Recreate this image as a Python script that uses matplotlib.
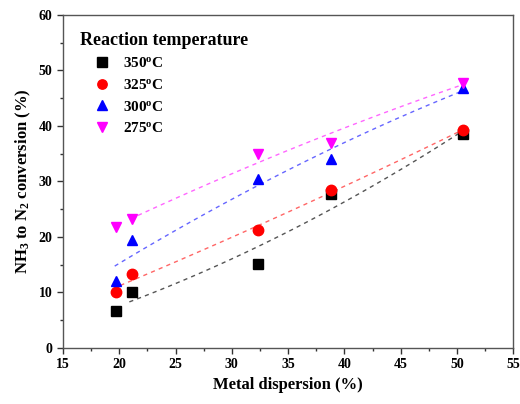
import numpy as np
import matplotlib
matplotlib.use("Agg")
import matplotlib.pyplot as plt

plt.rcParams["font.family"] = ["Liberation Serif", "DejaVu Serif"]
plt.rcParams["font.weight"] = "bold"
plt.rcParams["mathtext.fontset"] = "custom"
plt.rcParams["mathtext.rm"] = "Liberation Serif:bold"
plt.rcParams["mathtext.it"] = "Liberation Serif:bold"
plt.rcParams["mathtext.bf"] = "Liberation Serif:bold"

# metal dispersion (%)
dispersion = [19.7, 21.1, 32.3, 38.8, 50.5]

# NH3 -> N2 conversion (%) per reaction temperature
conv_350 = [6.6, 10.0, 15.2, 27.8, 38.5]
conv_325 = [10.0, 13.3, 21.3, 28.5, 39.2]
conv_300 = [12.0, 19.5, 30.5, 34.0, 46.8]
conv_275 = [21.8, 23.2, 35.0, 37.0, 47.8]

labels = ["350$^{o}$C", "325$^{o}$C", "300$^{o}$C", "275$^{o}$C"]
fit_start = [20.9, 20.1, 19.6, 21.0]

series = [conv_350, conv_325, conv_300, conv_275]
markers = ["s", "o", "^", "v"]
colors = ["black", "red", "blue", "magenta"]
line_colors = ["#555555", "#ff6666", "#6666ff", "#ff66ff"]

fig = plt.figure(figsize=(5.2, 4.04), dpi=100)
ax = fig.add_axes([0.121, 0.139, 0.866, 0.824])

x = np.array(dispersion)
for ys, m, c, lc, lab, x0 in zip(series, markers, colors, line_colors, labels, fit_start):
    coef = np.polyfit(x, ys, 2)
    xf = np.linspace(x0, 50.5, 100)
    ax.plot(xf, np.polyval(coef, xf), ls=(0, (3, 3)), lw=1, color=lc, zorder=1)
    ax.plot(x, ys, ls="none", marker=m, color=c, markersize=7.5, label=lab, zorder=2)

ax.set_xlim(15, 55)
ax.set_ylim(0, 60)
ax.set_xticks(np.arange(15, 56, 5))
ax.set_yticks(np.arange(0, 61, 10))
ax.set_xticks(np.arange(17.5, 55, 5), minor=True)
ax.set_yticks(np.arange(5, 60, 10), minor=True)
ax.tick_params(which="major", direction="out", length=4, width=1, labelsize=10, colors="#333333", labelcolor="black")
ax.tick_params(which="minor", direction="out", length=2.5, width=1, colors="#333333")
for sp in ax.spines.values():
    sp.set_color("#555555")
    sp.set_linewidth(1)

ax.set_xlabel("Metal dispersion (%)", fontsize=12, fontweight="bold")
ax.set_ylabel("NH$_3$ to N$_2$ conversion (%)", fontsize=12, fontweight="bold")

leg = ax.legend(loc="upper left", title="Reaction temperature", frameon=False,
                prop={"size": 11, "weight": "bold"}, handletextpad=-0.1, handlelength=2.9,
                labelspacing=0.5, borderaxespad=0.7, markerscale=0.9)
leg.get_title().set_fontsize(13)
leg.get_title().set_fontweight("bold")
leg._legend_box.align = "left"

fig.savefig("out.png", dpi=100)
